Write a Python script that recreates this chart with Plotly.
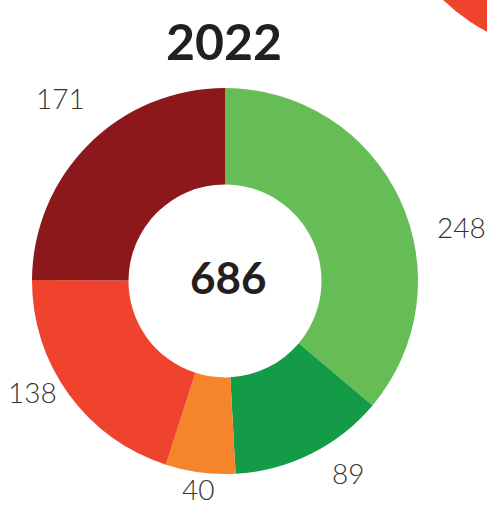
import math
import plotly.graph_objects as go

categories = ["A", "B", "C", "D", "E"]
values = [248, 89, 40, 138, 171]
colors = ["#66BD55", "#139B48", "#F5842A", "#EF432E", "#8D181C"]
title_text = "2022"
total = sum(values)

W, H = 487, 506
cx, cy, R = 225, 281, 193  # pixel center / radius (layout)

fig = go.Figure(go.Pie(
    labels=categories, values=values, sort=False, direction="clockwise",
    rotation=0, hole=0.5, textinfo="none", hoverinfo="label+value",
    marker=dict(colors=colors, line=dict(width=0)), showlegend=False,
    domain=dict(x=[(cx - R) / W, (cx + R) / W],
                y=[(H - cy - R) / H, (H - cy + R) / H]),
))

annotations = [
    dict(text=title_text, x=224 / W, y=1 - 41 / H, xref="paper", yref="paper",
         xanchor="center", yanchor="middle", showarrow=False,
         font=dict(family="Lato", size=50, color="#231F20", weight="bold")),
    dict(text=str(total), x=228 / W, y=1 - 277 / H, xref="paper", yref="paper",
         xanchor="center", yanchor="middle", showarrow=False,
         font=dict(family="Lato", size=44, color="#231F20", weight="bold")),
]

# label positions derived from slice mid-angles
nudge = [12, -6, 0, 6, 3]
lab_r = [243, 228, 210, 222, 246]
cum = 0
for v, nd, lr in zip(values, nudge, lab_r):
    mid = (cum + v / 2) / total * 360 + nd
    cum += v
    a = math.radians(mid)
    px = cx + lr * math.sin(a)
    py = cy - lr * math.cos(a)
    annotations.append(dict(text=str(v), x=px / W, y=1 - py / H, xref="paper", yref="paper",
                            xanchor="center", yanchor="middle", showarrow=False,
                            font=dict(family="Lato Light, Lato", size=28, color="#333333", weight=300)))

fig.update_layout(
    width=W, height=H, margin=dict(l=0, r=0, t=0, b=0),
    paper_bgcolor="white", plot_bgcolor="white",
    annotations=annotations,
    shapes=[dict(type="circle", xref="paper", yref="paper",
                 x0=(577 - 193) / W, x1=(577 + 193) / W,
                 y0=1 - (-139 + 193) / H, y1=1 - (-139 - 193) / H,
                 fillcolor="#EF432E", line=dict(width=0), layer="above")],
)
fig.write_html("out.html", config={"displayModeBar": False},
               post_script="document.body.style.margin='0';document.body.style.overflow='hidden';")
